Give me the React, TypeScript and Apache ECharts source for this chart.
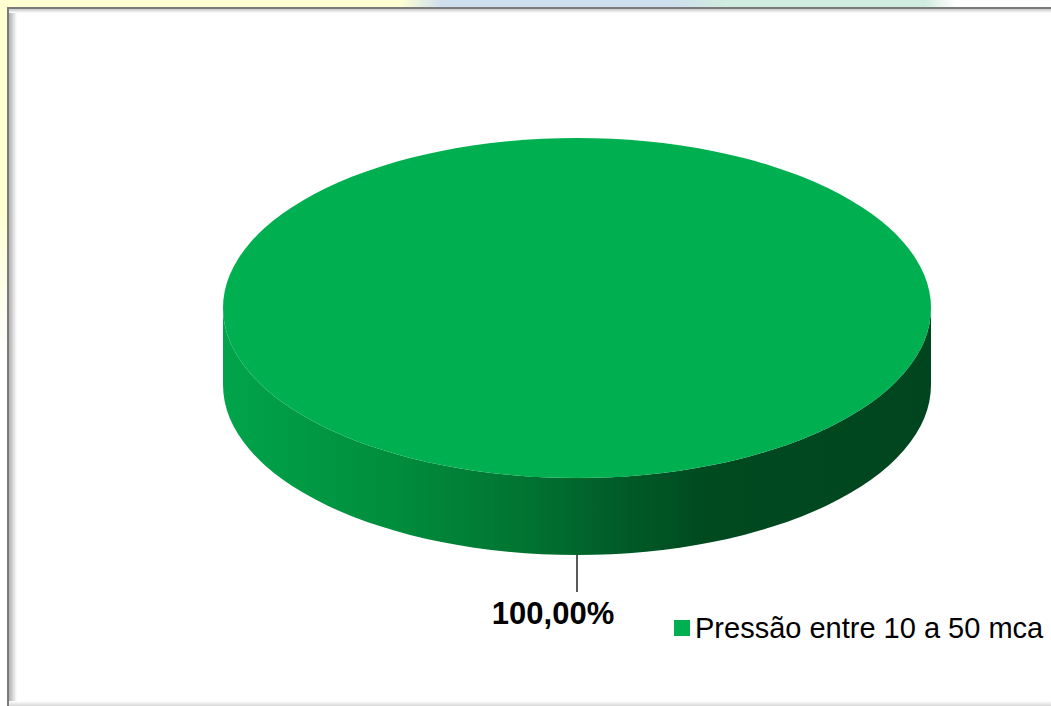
import React, { useEffect, useRef } from "react";
import * as echarts from "echarts";

const categories: string[] = ["Pressão entre 10 a 50 mca"];
const values: number[] = [100];
const sliceColors: string[] = ["#00B050"];

const FONT = 'Arial, "Liberation Sans", sans-serif';

export default function App() {
  const ref = useRef<HTMLDivElement>(null);

  useEffect(() => {
    if (!ref.current) return;
    const chart = echarts.init(ref.current, undefined, { renderer: "svg" });
    const total = values.reduce((a, b) => a + b, 0);

    const cx = 577;
    const cy = 308;
    const rx = 354;
    const ry = 170;
    const h = 77;

    const pt = (a: number, dy = 0) => [cx + rx * Math.cos(a), cy + dy + ry * Math.sin(a)];

    const wallFill = new echarts.graphic.LinearGradient(0, 0, 1, 0, [
      { offset: 0, color: "#00a44b" },
      { offset: 0.25, color: "#008c3c" },
      { offset: 0.45, color: "#007030" },
      { offset: 0.56, color: "#005c28" },
      { offset: 0.68, color: "#004a20" },
      { offset: 1, color: "#00451e" },
    ]);

    const renderItem = (params: any, api: any) => {
      const idx = params.dataIndex;
      let before = 0;
      for (let i = 0; i < idx; i++) before += values[i];
      const v = api.value(0);
      const frac = v / total;
      const full = frac >= 0.99999;
      const mid = Math.PI / 2;
      const start = mid - frac * Math.PI - (before / total) * 2 * Math.PI;
      const end = start + frac * 2 * Math.PI;
      const children: any[] = [];

      // wall
      let wallD: string;
      if (full) {
        wallD =
          `M ${cx - rx} ${cy} L ${cx - rx} ${cy + h} ` +
          `A ${rx} ${ry} 0 0 0 ${cx + rx} ${cy + h} ` +
          `L ${cx + rx} ${cy} A ${rx} ${ry} 0 0 1 ${cx - rx} ${cy} Z`;
      } else {
        const a0 = Math.max(start, 0);
        const a1 = Math.min(end, Math.PI);
        const p0 = pt(a0), p1 = pt(a1), q0 = pt(a0, h), q1 = pt(a1, h);
        wallD =
          `M ${p0[0]} ${p0[1]} L ${q0[0]} ${q0[1]} ` +
          `A ${rx} ${ry} 0 0 1 ${q1[0]} ${q1[1]} L ${p1[0]} ${p1[1]} ` +
          `A ${rx} ${ry} 0 0 0 ${p0[0]} ${p0[1]} Z`;
      }
      children.push({ type: "path", shape: { pathData: wallD }, style: { fill: wallFill } });

      // top face
      let topD: string;
      if (full) {
        topD =
          `M ${cx - rx} ${cy} A ${rx} ${ry} 0 0 1 ${cx + rx} ${cy} ` +
          `A ${rx} ${ry} 0 0 1 ${cx - rx} ${cy} Z`;
      } else {
        const p0 = pt(start), p1 = pt(end);
        topD =
          `M ${cx} ${cy} L ${p0[0]} ${p0[1]} A ${rx} ${ry} 0 ${frac > 0.5 ? 1 : 0} 1 ${p1[0]} ${p1[1]} Z`;
      }
      children.push({ type: "path", shape: { pathData: topD }, style: { fill: sliceColors[idx] } });

      // leader line + label
      const lm = (start + end) / 2;
      const anchor = pt(lm, h);
      children.push({
        type: "line",
        shape: { x1: anchor[0], y1: anchor[1], x2: anchor[0], y2: anchor[1] + 37 },
        style: { stroke: "#000", lineWidth: 1.3 },
      });
      children.push({
        type: "text",
        x: anchor[0] - 24,
        y: anchor[1] + 58,
        style: {
          text: ((v / total) * 100).toFixed(2).replace(".", ",") + "%",
          font: `bold 31px ${FONT}`,
          fill: "#000",
          align: "center",
          verticalAlign: "middle",
        },
      });
      return { type: "group", children };
    };

    chart.setOption({
      animation: false,
      backgroundColor: "#ffffff",
      legend: {
        left: 674,
        top: 613,
        padding: 0,
        icon: "rect",
        itemWidth: 16,
        itemHeight: 16,
        selectedMode: false,
        data: categories,
        textStyle: { fontSize: 29, fontFamily: FONT, color: "#000", lineHeight: 30 },
      },
      graphic: [
        // page background outside the chart frame
        {
          type: "rect",
          shape: { x: 0, y: 0, width: 1051, height: 8 },
          style: {
            fill: new echarts.graphic.LinearGradient(0, 0, 1, 0, [
              { offset: 0, color: "#ffffd2" },
              { offset: 0.38, color: "#ffffd2" },
              { offset: 0.42, color: "#cfdfee" },
              { offset: 0.64, color: "#cfdfee" },
              { offset: 0.69, color: "#d0ebdf" },
              { offset: 0.88, color: "#d0ebdf" },
              { offset: 0.91, color: "#ffffff" },
              { offset: 1, color: "#ffffff" },
            ]),
          },
          z: -10,
        },
        {
          type: "rect",
          shape: { x: 0, y: 0, width: 8, height: 706 },
          style: {
            fill: new echarts.graphic.LinearGradient(0, 0, 0, 1, [
              { offset: 0, color: "#ffffd2" },
              { offset: 0.3, color: "#ffffd2" },
              { offset: 0.5, color: "#ffffff" },
              { offset: 1, color: "#ffffff" },
            ]),
          },
          z: -10,
        },
        // frame border
        {
          type: "rect",
          shape: { x: 9, y: 9, width: 1042, height: 694 },
          style: { fill: "#ffffff" },
          z: -9,
        },
        {
          type: "rect",
          shape: { x: 9, y: 9, width: 8, height: 694 },
          style: {
            fill: new echarts.graphic.LinearGradient(0, 0, 1, 0, [
              { offset: 0, color: "#b0b0b0" },
              { offset: 1, color: "#ffffff" },
            ]),
          },
          z: -8,
        },
        {
          type: "rect",
          shape: { x: 9, y: 9, width: 1042, height: 4 },
          style: {
            fill: new echarts.graphic.LinearGradient(0, 0, 0, 1, [
              { offset: 0, color: "#c8c8c8" },
              { offset: 1, color: "#ffffff" },
            ]),
          },
          z: -8,
        },
        {
          type: "rect",
          shape: { x: 7, y: 7, width: 1044, height: 2 },
          style: { fill: "#7a7a7a" },
          z: -7,
        },
        {
          type: "rect",
          shape: { x: 7, y: 7, width: 2, height: 699 },
          style: { fill: "#7a7a7a" },
          z: -7,
        },
        {
          type: "rect",
          shape: { x: 9, y: 701, width: 1042, height: 5 },
          style: {
            fill: new echarts.graphic.LinearGradient(0, 0, 0, 1, [
              { offset: 0, color: "#ffffff" },
              { offset: 1, color: "#d8d8d8" },
            ]),
          },
          z: -8,
        },
      ],
      series: [
        {
          type: "custom",
          name: categories[0],
          coordinateSystem: "none",
          itemStyle: { color: sliceColors[0] },
          renderItem,
          data: values.map((v) => [v]),
          z: 2,
        },
      ],
    });

    return () => chart.dispose();
  }, []);

  return (
    <div
      ref={ref}
      style={{ position: "fixed", left: 0, top: 0, width: 1051, height: 706 }}
    />
  );
}
